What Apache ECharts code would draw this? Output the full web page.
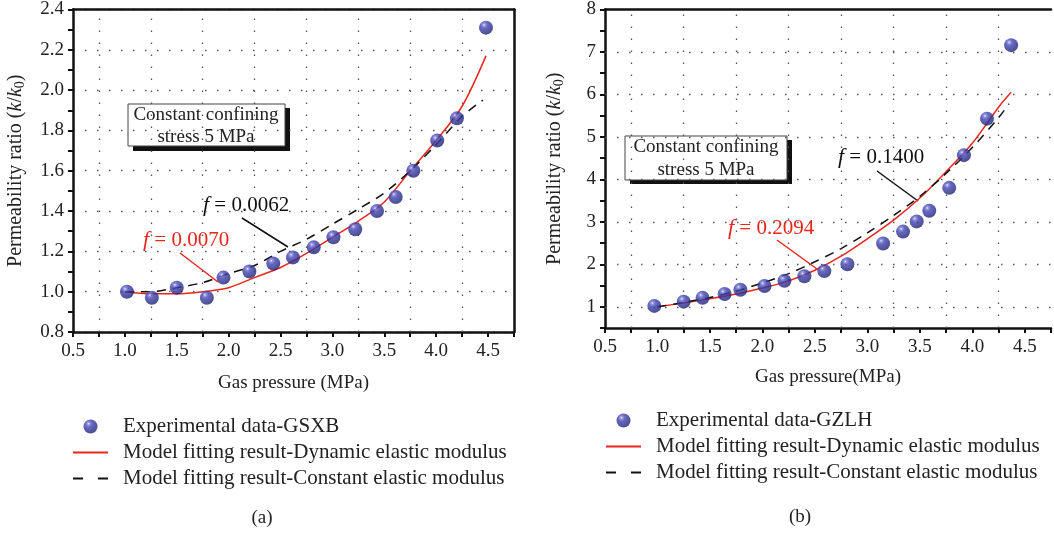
<!DOCTYPE html>
<html>
<head>
<meta charset="utf-8">
<title>Permeability ratio vs gas pressure</title>
<script src="https://cdn.jsdelivr.net/npm/echarts@6/dist/echarts.min.js"></script>
<style>
  html, body { margin: 0; padding: 0; background: #fff; }
  #chart { width: 1054px; height: 535px; }
</style>
</head>
<body>
<div id="chart"></div>
<script>
// (a) GSXB
const gsxbX = [1.02, 1.26, 1.50, 1.79, 1.95, 2.20, 2.43, 2.62, 2.82, 3.01, 3.22, 3.43, 3.61, 3.78, 4.01, 4.20, 4.48]
const gsxbY = [1.00, 0.97, 1.02, 0.97, 1.07, 1.10, 1.14, 1.17, 1.22, 1.27, 1.31, 1.40, 1.47, 1.60, 1.75, 1.86, 2.31]
const dynXa = [1.0, 1.25, 1.5, 1.75, 2.0, 2.25, 2.5, 2.75, 3.0, 3.25, 3.5, 3.75, 4.0, 4.25, 4.48]
const dynYa = [1.00, 0.99, 0.99, 1.00, 1.02, 1.07, 1.12, 1.19, 1.27, 1.35, 1.445, 1.60, 1.75, 1.92, 2.17]
const conXa = [1.0, 1.25, 1.5, 1.75, 2.0, 2.25, 2.5, 2.75, 3.0, 3.25, 3.5, 3.75, 4.0, 4.25, 4.45]
const conYa = [1.00, 1.00, 1.02, 1.045, 1.09, 1.13, 1.20, 1.26, 1.335, 1.41, 1.49, 1.60, 1.73, 1.87, 1.95]

// (b) GZLH
const gzlhX = [0.97, 1.25, 1.43, 1.64, 1.79, 2.02, 2.21, 2.40, 2.59, 2.81, 3.15, 3.34, 3.47, 3.59, 3.78, 3.92, 4.14, 4.37]
const gzlhY = [1.02, 1.12, 1.21, 1.30, 1.40, 1.49, 1.61, 1.72, 1.84, 2.00, 2.49, 2.77, 3.01, 3.26, 3.80, 4.57, 5.43, 7.16]
const dynXb = [1.0, 1.25, 1.5, 1.75, 2.0, 2.25, 2.5, 2.75, 3.0, 3.25, 3.5, 3.75, 4.0, 4.25, 4.37]
const dynYb = [1.00, 1.09, 1.19, 1.30, 1.44, 1.61, 1.86, 2.19, 2.60, 3.04, 3.56, 4.18, 4.85, 5.70, 6.05]
const conXb = [1.0, 1.25, 1.5, 1.75, 2.0, 2.25, 2.5, 2.75, 3.0, 3.25, 3.5, 3.75, 4.0, 4.25, 4.35]
const conYb = [1.00, 1.10, 1.22, 1.37, 1.56, 1.78, 2.06, 2.37, 2.74, 3.15, 3.60, 4.14, 4.75, 5.45, 5.78]

// grid lines (dotted)
const xGrid = [0.75, 1.25, 1.75, 2.25, 2.75, 3.25, 3.75, 4.25]
const yGridB = [1, 2, 3, 4, 5, 6, 7]

const names = {
  a: 'Experimental data-GSXB',
  b: 'Experimental data-GZLH',
  dyn: 'Model fitting result-Dynamic elastic modulus',
  con: 'Model fitting result-Constant elastic modulus'
}

const FONT = "'Liberation Serif', 'DejaVu Serif', serif"
const TXT = '#222'
const RED = '#e8261d'
const dot = { color: '#555', width: 1.3, type: [1.5, 10.5] }

// legend icons: plain bar / two dashes (no symbol in the middle)
const ICON_SOLID = 'path://M0,0L35,0L35,1.8L0,1.8Z'
const ICON_DASH = 'path://M0,0L10,0L10,1.8L0,1.8Z M25,0L35,0L35,1.8L25,1.8Z'

const zip = (xs, ys) => xs.map((x, i) => [x, ys[i]])

const ball = new echarts.graphic.RadialGradient(0.36, 0.3, 0.72, [
  { offset: 0, color: '#f4f4ff' },
  { offset: 0.12, color: '#8082da' },
  { offset: 0.35, color: '#4043b0' },
  { offset: 1, color: '#1d2072' }
])

const yName = '{t|Permeability ratio (}{i|k}{t|/}{i|k}{s|0}{t|)}'
const yNameRich = {
  t: { fontFamily: FONT, fontSize: 20, color: TXT },
  i: { fontFamily: FONT, fontSize: 20, color: TXT, fontStyle: 'italic' },
  s: { fontFamily: FONT, fontSize: 14, color: TXT, padding: [9, 0, 0, 0] }
}

function xAxisMain(grid, name, gap) {
  return {
    gridIndex: grid, type: 'value', min: 0.5, max: 4.75, interval: 0.25,
    position: 'bottom',
    name: name, nameLocation: 'middle', nameGap: gap,
    nameTextStyle: { fontFamily: FONT, fontSize: 19, color: TXT },
    axisLine: { lineStyle: { color: '#111', width: 2.5 } },
    axisTick: { length: 5, lineStyle: { color: '#111', width: 2 } },
    axisLabel: {
      fontFamily: FONT, fontSize: 19, color: TXT, margin: 10,
      formatter: v => (Math.abs(v * 2 - Math.round(v * 2)) < 1e-6 ? v.toFixed(1) : '')
    },
    splitLine: { show: false }
  }
}

function border(grid, pos, min, max) {
  return {
    gridIndex: grid, type: 'value', min: min, max: max, position: pos,
    axisLine: { onZero: false, lineStyle: { color: '#111', width: 2.5 } },
    axisTick: { show: false }, axisLabel: { show: false }, splitLine: { show: false }
  }
}

function gridMarks(key, values) {
  return {
    silent: true, symbol: ['none', 'none'], z: 1,
    label: { show: false }, lineStyle: dot, emphasis: { disabled: true },
    data: values.map(v => ({ [key]: v }))
  }
}

function fLabel(x, y, val, color) {
  return {
    type: 'text', x: x, y: y,
    style: {
      text: '{i|f} = ' + val, verticalAlign: 'middle',
      font: '21px ' + FONT, fill: color,
      rich: { i: { fontStyle: 'italic', fontFamily: FONT, fontSize: 22, fill: color } }
    }
  }
}

function legendOf(left, top, first) {
  return {
    left: left, top: top, orient: 'vertical', padding: 0, itemGap: 5,
    itemWidth: 35, itemHeight: 14,
    textStyle: { fontFamily: FONT, fontSize: 21, color: TXT, lineHeight: 21, padding: [0, 0, 0, 10] },
    data: [
      { name: first, icon: 'circle' },
      { name: names.dyn, icon: ICON_SOLID },
      { name: names.con, icon: ICON_DASH }
    ]
  }
}

const myChart = echarts.init(document.getElementById('chart'))

const option = {
  animation: false,
  backgroundColor: '#fff',
  grid: [
    { left: 73, top: 8, width: 441, height: 324 },
    { left: 605, top: 8, width: 451, height: 320 }
  ],
  xAxis: [
    xAxisMain(0, 'Gas pressure (MPa)', 42),
    border(0, 'top', 0.5, 4.75),
    xAxisMain(1, 'Gas pressure(MPa)', 40),
    border(1, 'top', 0.5, 4.75)
  ],
  yAxis: [
    {
      gridIndex: 0, type: 'value', min: 0.8, max: 2.4, interval: 0.2,
      name: yName, nameLocation: 'middle', nameGap: 46, nameRotate: 90,
      nameTextStyle: { rich: yNameRich },
      axisLine: { lineStyle: { color: '#111', width: 2.5 } },
      axisTick: { length: 5, lineStyle: { color: '#111', width: 2 } },
      minorTick: { show: true, splitNumber: 2, length: 5, lineStyle: { color: '#111', width: 2 } },
      axisLabel: { fontFamily: FONT, fontSize: 19, color: TXT, margin: 9, formatter: v => v.toFixed(1) },
      splitLine: { show: true, lineStyle: dot }
    },
    border(0, 'right', 0.8, 2.4),
    {
      gridIndex: 1, type: 'value', min: 0.5, max: 8, interval: 0.5,
      name: yName, nameLocation: 'middle', nameGap: 39, nameRotate: 90,
      nameTextStyle: { rich: yNameRich },
      axisLine: { lineStyle: { color: '#111', width: 2.5 } },
      axisTick: { length: 5, lineStyle: { color: '#111', width: 2 } },
      axisLabel: {
        fontFamily: FONT, fontSize: 19, color: TXT, margin: 9,
        formatter: v => (Math.abs(v - Math.round(v)) < 1e-6 ? String(Math.round(v)) : '')
      },
      splitLine: { show: false }
    }
  ],
  legend: [
    legendOf(73, 416, names.a),
    legendOf(606, 410, names.b)
  ],
  series: [
    // (a)
    {
      name: names.dyn, type: 'line', xAxisIndex: 0, yAxisIndex: 0,
      data: zip(dynXa, dynYa), smooth: 0.3, symbol: 'none',
      lineStyle: { color: RED, width: 1.5 }, itemStyle: { color: RED },
      markLine: gridMarks('xAxis', xGrid)
    },
    {
      name: names.con, type: 'line', xAxisIndex: 0, yAxisIndex: 0,
      data: zip(conXa, conYa), smooth: 0.3, symbol: 'none',
      lineStyle: { color: '#111', width: 1.5, type: [9, 7] }, itemStyle: { color: '#111' }
    },
    {
      name: names.a, type: 'scatter', xAxisIndex: 0, yAxisIndex: 0,
      data: zip(gsxbX, gsxbY), symbolSize: 14, z: 5,
      itemStyle: { color: ball }
    },
    // (b)
    {
      name: names.dyn, type: 'line', xAxisIndex: 2, yAxisIndex: 2,
      data: zip(dynXb, dynYb), smooth: 0.3, symbol: 'none',
      lineStyle: { color: RED, width: 1.5 }, itemStyle: { color: RED },
      markLine: gridMarks('xAxis', xGrid)
    },
    {
      name: names.con, type: 'line', xAxisIndex: 2, yAxisIndex: 2,
      data: zip(conXb, conYb), smooth: 0.3, symbol: 'none',
      lineStyle: { color: '#111', width: 1.5, type: [9, 7] }, itemStyle: { color: '#111' },
      markLine: gridMarks('yAxis', yGridB)
    },
    {
      name: names.b, type: 'scatter', xAxisIndex: 2, yAxisIndex: 2,
      data: zip(gzlhX, gzlhY), symbolSize: 14, z: 5,
      itemStyle: { color: ball }
    }
  ],
  graphic: [
    // text boxes with drop shadow
    { type: 'rect', shape: { x: 133, y: 108, width: 157, height: 43 }, style: { fill: '#111' } },
    { type: 'rect', shape: { x: 128, y: 104, width: 157, height: 42 }, style: { fill: '#fff', stroke: '#444', lineWidth: 1 } },
    { type: 'text', x: 206, y: 126, style: { text: 'Constant confining\nstress 5 MPa', font: '19px ' + FONT, fill: TXT, align: 'center', verticalAlign: 'middle', lineHeight: 22 } },
    { type: 'rect', shape: { x: 630, y: 140, width: 162, height: 44 }, style: { fill: '#111' } },
    { type: 'rect', shape: { x: 625, y: 136, width: 162, height: 44 }, style: { fill: '#fff', stroke: '#444', lineWidth: 1 } },
    { type: 'text', x: 706, y: 159, style: { text: 'Constant confining\nstress 5 MPa', font: '19px ' + FONT, fill: TXT, align: 'center', verticalAlign: 'middle', lineHeight: 23 } },
    // fit labels and leaders
    fLabel(203, 205, '0.0062', '#111'),
    { type: 'line', shape: { x1: 242, y1: 218, x2: 288, y2: 247 }, style: { stroke: '#111', lineWidth: 1.5 } },
    fLabel(143, 240, '0.0070', RED),
    { type: 'line', shape: { x1: 180, y1: 253, x2: 218, y2: 282 }, style: { stroke: RED, lineWidth: 1.5 } },
    fLabel(838, 157, '0.1400', '#111'),
    { type: 'line', shape: { x1: 877, y1: 171, x2: 918, y2: 201 }, style: { stroke: '#111', lineWidth: 1.5 } },
    fLabel(728, 228, '0.2094', RED),
    { type: 'line', shape: { x1: 777, y1: 240, x2: 817, y2: 269 }, style: { stroke: RED, lineWidth: 1.5 } },
    // panel captions
    { type: 'text', x: 262, y: 518, style: { text: '(a)', font: '19px ' + FONT, fill: TXT, align: 'center', verticalAlign: 'middle' } },
    { type: 'text', x: 800, y: 517, style: { text: '(b)', font: '19px ' + FONT, fill: TXT, align: 'center', verticalAlign: 'middle' } }
  ]
}

option && myChart.setOption(option)
</script>
</body>
</html>
